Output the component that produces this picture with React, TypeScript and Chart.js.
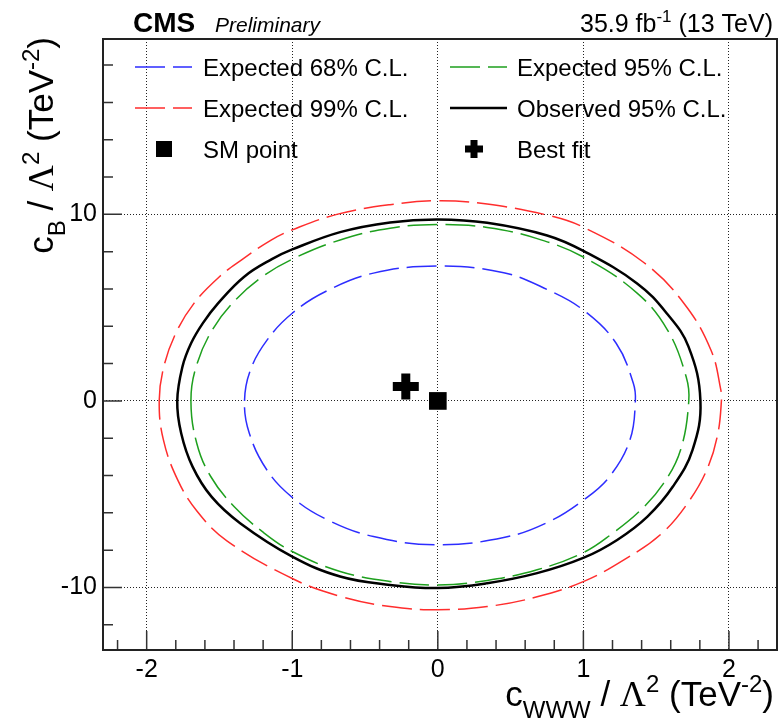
import React, { useEffect, useRef } from "react";
import { Chart, registerables } from "chart.js";

Chart.register(...registerables);

// ---- contour points (x = cWWW/Λ², y = cB/Λ²), each a closed loop ----
const expected68: number[][] = [
  [-1.328, 0], [-1.287, 1.66], [-1.172, 3.27], [-1.0, 4.7], [-0.762, 5.9], [-0.442, 6.85],
  [0, 7.23], [0.453, 6.87], [0.751, 5.97], [1.003, 4.85], [1.225, 3.09], [1.343, 0.95],
  [1.357, 0], [1.32, -2.09], [1.18, -4.05], [1.003, -5.3], [0.751, -6.52], [0.453, -7.32],
  [0, -7.71], [-0.442, -7.27], [-0.762, -6.36], [-1.0, -5.17], [-1.174, -3.7], [-1.295, -1.73],
];

const expected95: number[][] = [
  [-1.696, 0], [-1.66, 1.84], [-1.55, 3.8], [-1.39, 5.41], [-1.205, 6.66], [-1.0, 7.6],
  [-0.671, 8.63], [-0.328, 9.26], [0, 9.46], [0.339, 9.3], [0.682, 8.7], [1.003, 7.7],
  [1.369, 5.78], [1.578, 3.8], [1.706, 1.3], [1.724, 0], [1.668, -2.62], [1.552, -4.41],
  [1.395, -5.84], [1.2, -7.1], [1.003, -8.12], [0.682, -9.05], [0.339, -9.62], [0, -9.86],
  [-0.328, -9.68], [-0.671, -9.14], [-1.0, -8.07], [-1.198, -7.05], [-1.4, -5.66],
  [-1.56, -4.05], [-1.656, -2.27],
];

const expected99: number[][] = [
  [-1.914, 0], [-1.882, 1.84], [-1.8, 3.63], [-1.675, 5.23], [-1.5, 6.66], [-1.35, 7.55],
  [-1.145, 8.62], [-1.0, 9.17], [-0.694, 10.0], [-0.328, 10.52], [0, 10.73], [0.339, 10.55],
  [0.751, 9.96], [1.003, 9.3], [1.415, 7.42], [1.69, 5.24], [1.876, 2.73], [1.944, 0.59],
  [1.948, 0], [1.924, -1.73], [1.857, -3.52], [1.732, -5.3], [1.54, -7.09], [1.278, -8.52],
  [1.003, -9.67], [0.682, -10.5], [0.339, -11.02], [0, -11.19], [-0.328, -11.02],
  [-0.671, -10.47], [-1.0, -9.52], [-1.449, -7.5], [-1.655, -5.9], [-1.787, -4.23],
  [-1.885, -2.09],
];

const observed95: number[][] = [
  [-1.79, 0], [-1.754, 1.84], [-1.695, 3.09], [-1.615, 4.16], [-1.51, 5.23], [-1.33, 6.66],
  [-1.14, 7.6], [-1.0, 8.12], [-0.671, 9.05], [-0.328, 9.57], [0, 9.73], [0.339, 9.55],
  [0.751, 8.87], [1.003, 8.03], [1.369, 6.3], [1.572, 4.7], [1.722, 2.91], [1.804, 0],
  [1.75, -2.62], [1.615, -4.59], [1.44, -6.2], [1.232, -7.45], [1.003, -8.4], [0.682, -9.23],
  [0.339, -9.77], [0, -10.03], [-0.328, -9.86], [-0.671, -9.41], [-1.0, -8.34],
  [-1.358, -6.55], [-1.555, -5.13], [-1.685, -3.52], [-1.763, -1.73],
];

const smPoint: number[][] = [[0, 0]];
const bestFit: number[][] = [[-0.22, 0.77]];

const seriesLabels = [
  "Expected 99% C.L.",
  "Expected 68% C.L.",
  "Expected 95% C.L.",
  "Observed 95% C.L.",
  "SM point",
  "Best fit",
];

const xRange = [-2.3, 2.33];
const yRange = [-13.35, 19.4];

const FONT = "'Liberation Sans', Arial, Helvetica, sans-serif";
const SERIF = "'Liberation Serif', 'DejaVu Serif', serif";

type Part = { t: string; s: number; dy?: number; f?: string };

function drawRich(ctx: CanvasRenderingContext2D, parts: Part[], x: number, y: number, align: "left" | "right") {
  let total = 0;
  for (const p of parts) {
    ctx.font = `${p.s}px ${p.f || FONT}`;
    total += ctx.measureText(p.t).width;
  }
  let cx = align === "right" ? x - total : x;
  ctx.textAlign = "left";
  ctx.textBaseline = "alphabetic";
  for (const p of parts) {
    ctx.font = `${p.s}px ${p.f || FONT}`;
    ctx.fillText(p.t, cx, y + (p.dy || 0));
    cx += ctx.measureText(p.t).width;
  }
}

// make each contour a closed, smooth loop
const closeLoops = {
  id: "closeLoops",
  beforeDatasetsDraw(chart: any) {
    chart.data.datasets.forEach((d: any, i: number) => {
      if (!d.showLine) return;
      const el = chart.getDatasetMeta(i).dataset;
      if (!el) return;
      el._loop = true;
      el._fullLoop = true;
      el._pointsUpdated = false;
      delete el._segments;
      delete el._path;
      if (typeof el.updateControlPoints === "function") {
        el.updateControlPoints(chart.chartArea, "x");
      }
    });
  },
};

const rootStyle = {
  id: "rootStyle",
  afterDraw(chart: any) {
    const { ctx, chartArea: a, scales } = chart;
    const xs = scales.x;
    const ys = scales.y;
    ctx.save();

    // inward ticks (left and bottom axes)
    ctx.strokeStyle = "#333";
    ctx.lineWidth = 1.5;
    ctx.beginPath();
    for (let i = -11; i <= 11; i++) {
      const v = i * 0.2;
      const px = xs.getPixelForValue(v);
      if (px < a.left || px > a.right) continue;
      const len = i % 5 === 0 ? 19 : 10;
      ctx.moveTo(px, a.bottom);
      ctx.lineTo(px, a.bottom - len);
    }
    for (let i = -6; i <= 9; i++) {
      const v = i * 2;
      const py = ys.getPixelForValue(v);
      if (py < a.top || py > a.bottom) continue;
      const len = v % 10 === 0 ? 19 : 10;
      ctx.moveTo(a.left, py);
      ctx.lineTo(a.left + len, py);
    }
    ctx.stroke();

    // frame
    ctx.strokeStyle = "#222";
    ctx.lineWidth = 2;
    ctx.strokeRect(a.left, a.top, a.right - a.left, a.bottom - a.top);

    // legend
    const ds = chart.data.datasets;
    const slots: { idx: number; lx: number; tx: number; y: number }[] = [
      { idx: 1, lx: 135, tx: 203, y: 67 },
      { idx: 2, lx: 450, tx: 517, y: 67 },
      { idx: 0, lx: 135, tx: 203, y: 108 },
      { idx: 3, lx: 450, tx: 517, y: 108 },
      { idx: 4, lx: 135, tx: 203, y: 149 },
      { idx: 5, lx: 450, tx: 517, y: 149 },
    ];
    for (const s of slots) {
      const d = ds[s.idx];
      if (s.idx <= 3) {
        ctx.save();
        ctx.strokeStyle = d.borderColor;
        ctx.lineWidth = d.borderWidth;
        ctx.setLineDash(d.borderDash || []);
        ctx.beginPath();
        ctx.moveTo(s.lx, s.y);
        ctx.lineTo(s.lx + 57, s.y);
        ctx.stroke();
        ctx.restore();
      } else if (s.idx === 4) {
        ctx.fillStyle = "#000";
        ctx.fillRect(s.lx + 21, s.y - 8, 16, 16);
      } else {
        ctx.fillStyle = "#000";
        ctx.fillRect(s.lx + 15, s.y - 3.5, 18, 7);
        ctx.fillRect(s.lx + 20.5, s.y - 9, 7, 18);
      }
      ctx.fillStyle = "#000";
      ctx.font = `24px ${FONT}`;
      ctx.textAlign = "left";
      ctx.textBaseline = "alphabetic";
      ctx.fillText(d.label, s.tx, s.y + 9);
    }

    // header texts
    ctx.fillStyle = "#000";
    ctx.textBaseline = "alphabetic";
    ctx.textAlign = "left";
    ctx.font = `bold 28px ${FONT}`;
    ctx.fillText("CMS", 133, 32);
    ctx.font = `italic 21px ${FONT}`;
    ctx.fillText("Preliminary", 215, 32);
    drawRich(ctx, [
      { t: "35.9 fb", s: 25 },
      { t: "-1", s: 17, dy: -10 },
      { t: " (13 TeV)", s: 25 },
    ], 773, 32, "right");

    // x title
    drawRich(ctx, [
      { t: "c", s: 35 },
      { t: "WWW", s: 24, dy: 12 },
      { t: " / ", s: 35 },
      { t: "\u039B", s: 36, f: SERIF },
      { t: "2", s: 24, dy: -14 },
      { t: " (TeV", s: 35 },
      { t: "-2", s: 24, dy: -14 },
      { t: ")", s: 35 },
    ], 774, 706, "right");

    // y title (rotated)
    ctx.save();
    ctx.translate(53, 37);
    ctx.rotate(-Math.PI / 2);
    drawRich(ctx, [
      { t: "c", s: 35 },
      { t: "B", s: 24, dy: 12 },
      { t: " / ", s: 35 },
      { t: "\u039B", s: 36, f: SERIF },
      { t: "2", s: 24, dy: -14 },
      { t: " (TeV", s: 35 },
      { t: "-2", s: 24, dy: -14 },
      { t: ")", s: 35 },
    ], 0, 0, "right");
    ctx.restore();

    ctx.restore();
  },
};

const toXY = (arr: number[][]) => arr.map(([x, y]) => ({ x, y }));

export default function App() {
  const ref = useRef<HTMLCanvasElement | null>(null);
  useEffect(() => {
    if (!ref.current) return;
    const lineDs = (label: string, data: number[][], color: string, width: number, dash: number[]) => ({
      label,
      data: toXY(data),
      showLine: true,
      borderColor: color,
      backgroundColor: color,
      borderWidth: width,
      borderDash: dash,
      pointRadius: 0,
      tension: 0.4,
      fill: false,
    });
    const chart = new Chart(ref.current, {
      type: "scatter",
      data: {
        datasets: [
          lineDs(seriesLabels[0], expected99, "rgb(255,45,45)", 1.5, [30, 8]),
          lineDs(seriesLabels[1], expected68, "rgb(45,45,255)", 1.5, [30, 8]),
          lineDs(seriesLabels[2], expected95, "rgb(30,160,30)", 1.5, [30, 8]),
          lineDs(seriesLabels[3], observed95, "#000", 2.5, []),
          {
            label: seriesLabels[4],
            data: toXY(smPoint),
            pointStyle: "rect",
            pointRadius: 12.5,
            backgroundColor: "#000",
            borderColor: "#000",
            borderWidth: 0,
          } as any,
          {
            label: seriesLabels[5],
            data: toXY(bestFit),
            pointStyle: "cross",
            pointRadius: 13,
            backgroundColor: "#000",
            borderColor: "#000",
            borderWidth: 9,
          } as any,
        ],
      },
      options: {
        responsive: false,
        animation: false,
        devicePixelRatio: 1,
        events: [],
        layout: { autoPadding: false, padding: { top: 39, right: 2, left: 0, bottom: 0 } },
        plugins: { legend: { display: false }, tooltip: { enabled: false } },
        scales: {
          x: {
            type: "linear",
            min: xRange[0],
            max: xRange[1],
            ticks: {
              stepSize: 1,
              includeBounds: false,
              autoSkip: false,
              maxRotation: 0,
              color: "#000",
              padding: 5,
              font: { family: FONT, size: 25 },
            },
            grid: { color: "#222", lineWidth: 1, drawTicks: false },
            border: { display: false, dash: [1, 2] },
            afterFit: (s: any) => { s.height = 72; s.paddingLeft = 0; s.paddingRight = 0; },
          },
          y: {
            type: "linear",
            min: yRange[0],
            max: yRange[1],
            ticks: {
              stepSize: 10,
              includeBounds: false,
              autoSkip: false,
              color: "#000",
              padding: 6,
              font: { family: FONT, size: 25 },
            },
            grid: { color: "#222", lineWidth: 1, drawTicks: false },
            border: { display: false, dash: [1, 2] },
            afterFit: (s: any) => { s.width = 103; s.paddingTop = 0; s.paddingBottom = 0; },
          },
        },
      } as any,
      plugins: [closeLoops, rootStyle],
    });
    return () => chart.destroy();
  }, []);

  return (
    <div style={{ position: "fixed", left: 0, top: 0, width: 779, height: 722, background: "#fff" }}>
      <canvas ref={ref} width={779} height={722} style={{ width: 779, height: 722, display: "block" }} />
    </div>
  );
}
